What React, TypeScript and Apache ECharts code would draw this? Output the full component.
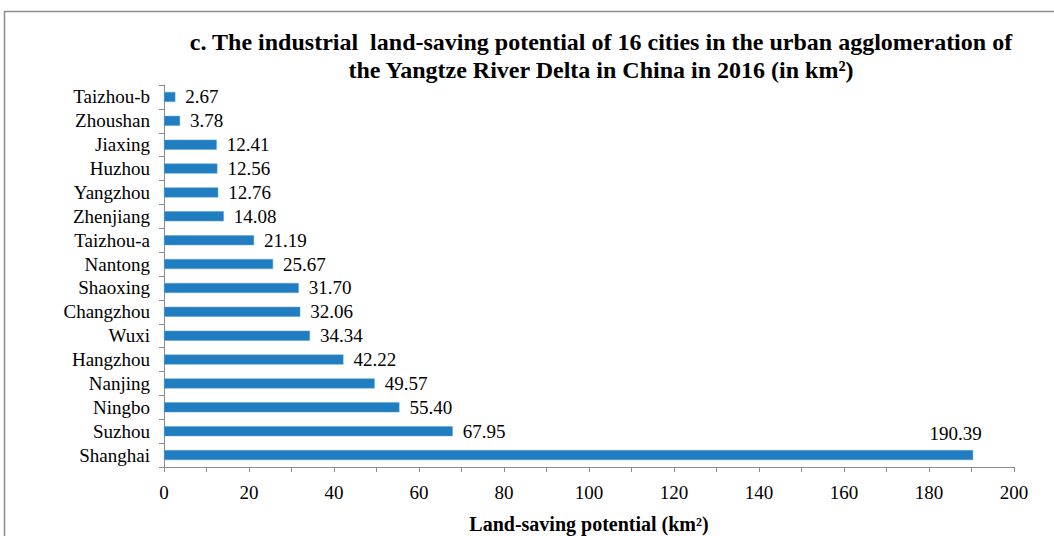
import React, { useEffect, useRef } from "react";
import * as echarts from "echarts";

const categories = [
  "Shanghai", "Suzhou", "Ningbo", "Nanjing", "Hangzhou", "Wuxi", "Changzhou", "Shaoxing",
  "Nantong", "Taizhou-a", "Zhenjiang", "Yangzhou", "Huzhou", "Jiaxing", "Zhoushan", "Taizhou-b",
];
const values = [190.39, 67.95, 55.4, 49.57, 42.22, 34.34, 32.06, 31.7, 25.67, 21.19, 14.08, 12.76, 12.56, 12.41, 3.78, 2.67];
const titleText = "c. The industrial  land-saving potential of 16 cities in the urban agglomeration of\nthe Yangtze River Delta in China in 2016 (in km²)";
const xName = "Land-saving potential (km²)";

const FONT = "'Liberation Serif', 'Times New Roman', serif";

export default function App() {
  const ref = useRef<HTMLDivElement>(null);
  useEffect(() => {
    if (!ref.current) return;
    const chart = echarts.init(ref.current, null, { renderer: "svg" });
    chart.setOption({
      animation: false,
      backgroundColor: "#ffffff",
      graphic: [
        {
          type: "rect",
          shape: { x: 4.5, y: 11.5, width: 1200, height: 700 },
          style: { fill: "none", stroke: "#8c8c8c", lineWidth: 1.5 },
          silent: true,
        },
      ],
      title: {
        text: titleText,
        left: 596,
        top: 23,
        textAlign: "center",
        textStyle: { fontFamily: FONT, fontWeight: "bold", fontSize: 24, color: "#000", lineHeight: 28 },
      },
      grid: { left: 164, width: 850, top: 85, height: 382, containLabel: false, outerBoundsMode: "none" },
      xAxis: {
        type: "value",
        min: 0,
        max: 200,
        interval: 20,
        name: xName,
        nameLocation: "middle",
        nameGap: 47,
        nameTextStyle: { fontFamily: FONT, fontWeight: "bold", fontSize: 20, color: "#000" },
        axisLine: { show: true, lineStyle: { color: "#8c8c8c", width: 1 } },
        axisTick: { show: true, length: 5, lineStyle: { color: "#8c8c8c" } },
        minorTick: { show: true, splitNumber: 2, length: 5, lineStyle: { color: "#8c8c8c" } },
        axisLabel: { fontFamily: FONT, fontSize: 19, color: "#000", margin: 16 },
        splitLine: { show: false },
      },
      yAxis: {
        type: "category",
        data: categories,
        axisLine: { show: true, lineStyle: { color: "#8c8c8c", width: 1 } },
        axisTick: { show: true, length: 5, lineStyle: { color: "#8c8c8c" } },
        axisLabel: { fontFamily: FONT, fontSize: 19, color: "#000", margin: 14, interval: 0 },
      },
      series: [
        {
          type: "bar",
          barWidth: 10,
          data: values.map((v, i) =>
            i === 0
              ? {
                  value: v,
                  label: { position: ["94.6%", -26], align: "left", verticalAlign: "top" },
                }
              : v
          ),
          itemStyle: { color: "#1f7dc0", borderColor: "#5aa3d8", borderWidth: 0.5 },
          label: {
            show: true,
            position: "right",
            distance: 10,
            fontFamily: FONT,
            fontSize: 19,
            color: "#000",
            formatter: (p: any) => Number(p.value).toFixed(2),
          },
        },
      ],
    });
    return () => chart.dispose();
  }, []);
  return (
    <div
      ref={ref}
      style={{ position: "absolute", left: 0, top: 0, width: 1054, height: 536 }}
    />
  );
}
